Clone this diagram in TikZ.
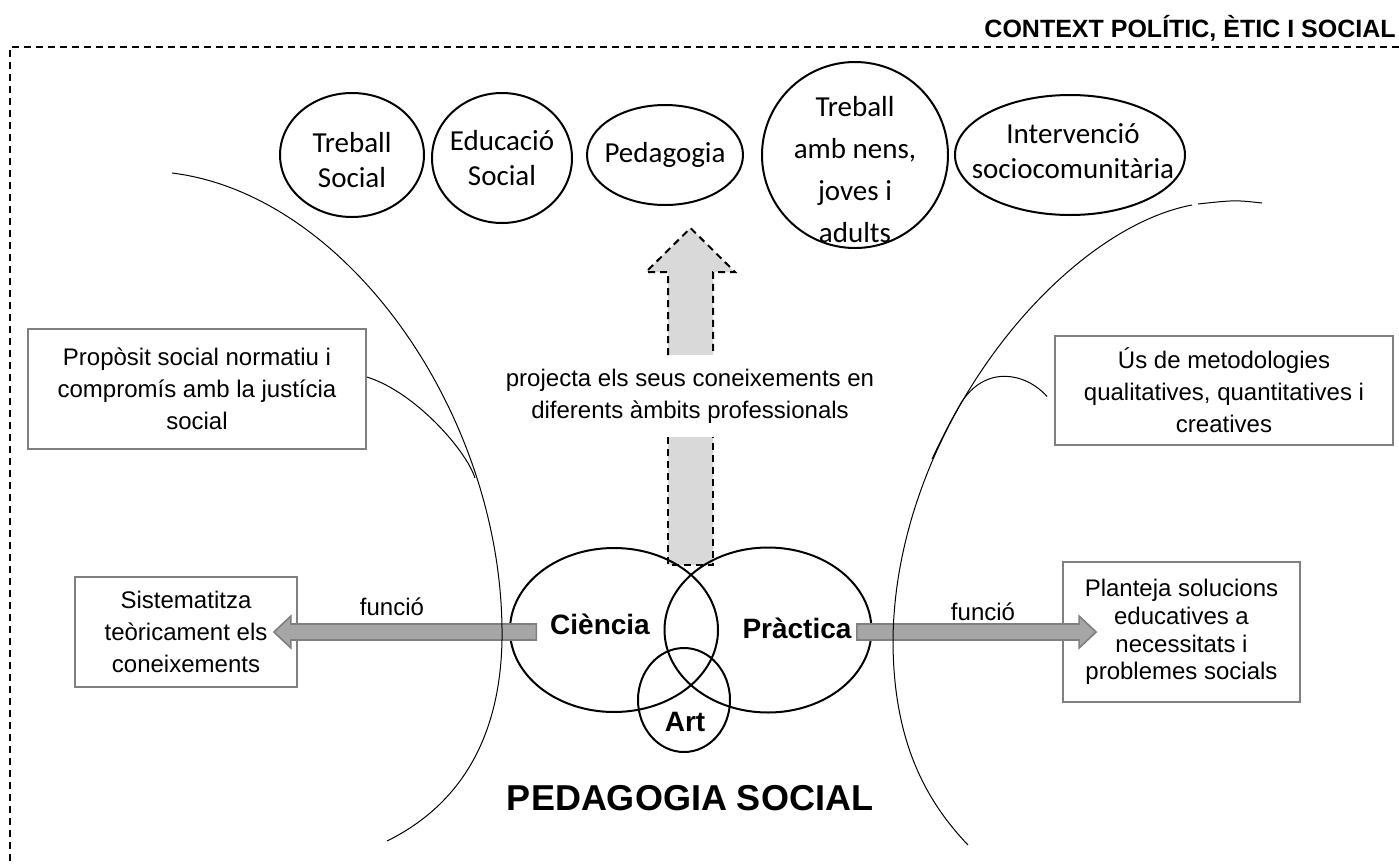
\documentclass[tikz,border=0pt]{standalone}
\usepackage{fontspec}
\setmainfont{Liberation Sans}
\newfontfamily\calib{Carlito}
\usetikzlibrary{calc,positioning,shapes.geometric}
\definecolor{boxgray}{HTML}{808080}
\definecolor{arrgray}{HTML}{A6A6A6}
\definecolor{arrline}{HTML}{7F7F7F}
\definecolor{liteg}{HTML}{D9D9D9}

\begin{document}
\begin{tikzpicture}[x=0.5pt, y=-0.5pt, font=\fontsize{12}{16}\selectfont,
    ell/.style = {line width=1pt},
    etxt/.style = {font=\calib\fontsize{14.5}{17.5}\selectfont, align=center, inner sep=0pt},
    venn/.style = {draw, ellipse, line width=1pt, inner sep=0pt},
    vlbl/.style = {font=\bfseries\fontsize{14}{16}\selectfont, inner sep=0pt},
    gbox/.style = {draw=boxgray, line width=0.9pt, align=center, inner sep=0pt},
    garrow/.style = {fill=arrgray, draw=arrline, line width=0.8pt},
    dline/.style = {dash pattern=on 3.5pt off 2.5pt, line width=1pt},
    curve/.style = {line width=0.5pt}]
    \useasboundingbox (0,0) rectangle (1399,863);
    \node[anchor=east, inner sep=0pt, font=\bfseries\fontsize{12.5}{15}\selectfont] (ctx) at (1396,28) {CONTEXT POLÍTIC, ÈTIC I SOCIAL};
    \draw[dline] (1399,47) -- (10,47) -- (10,863);

    \node[etxt] (ts) at (352,160) {Treball\\Social};
    \node[etxt] (es) at (502,158) {Educació\\Social};
    \node[etxt] (pe) at (665,155) {Pedagogia};
    \node[etxt, font=\calib\fontsize{14.5}{21}\selectfont] (tn) at (855,170) {Treball\\amb nens,\\joves i\\adults};
    \node[etxt] (is) at (1073,151) {Intervenció\\sociocomunitària};
    \draw[ell] (352,155) ellipse [x radius=36pt, y radius=31pt];
    \draw[ell] (502,158) ellipse [x radius=35pt, y radius=32.5pt];
    \draw[ell] (665,155) ellipse [x radius=39pt, y radius=25pt];
    \draw[ell] (855,155) ellipse [x radius=46.5pt, y radius=46.5pt];
    \draw[ell] (1070,155) ellipse [x radius=57.5pt, y radius=30pt];

    \draw[dline, fill=liteg] (668,355) -- (668,272) -- (646,272) -- (690.5,228) -- (735,272) -- (713,272) -- (713,355);
    \node[align=center] (proj) at (690,396) {projecta els seus coneixements en\\diferents àmbits professionals};
    \draw[dline, fill=liteg] (668,437) -- (668,565) -- (713,565) -- (713,437);

    \node[gbox, minimum width=169pt, minimum height=60pt] (prop) at (197,389) {Propòsit social normatiu i\\compromís amb la justícia\\social};
    \node[gbox, minimum width=169pt, minimum height=54.5pt] (us) at (1224,390.5) {Ús de metodologies\\qualitatives, quantitatives i\\creatives};
    \node[gbox, minimum width=111pt, minimum height=55pt] (sist) at (186,632) {Sistematitza\\teòricament els\\coneixements};
    \node[gbox, minimum width=118.5pt, minimum height=70pt, font=\fontsize{12}{13.85}\selectfont] (plan) at (1181.5,632) {Planteja solucions\\educatives a\\necessitats i\\problemes socials};

    \node[venn, minimum width=104pt, minimum height=82pt] (cien) at (614,630) {};
    \node[venn, minimum width=103.5pt, minimum height=82.5pt] (prac) at (768,630) {};
    \node[venn, minimum width=46pt, minimum height=52pt] (art) at (684,700) {};
    \node[vlbl] (cienl) at (600,624) {Ciència};
    \node[vlbl] (pracl) at (797,628) {Pràctica};
    \node[vlbl] (artl) at (685,722) {Art};
    \node[font=\bfseries\fontsize{18}{20}\selectfont] (ps) at (690,798) {PEDAGOGIA SOCIAL};

    \draw[garrow] let \p1=([xshift=-6.75pt]cienl.west), \p2=([xshift=-12pt]sist.east) in
        (\x1,\y2+4pt) -- (\x2+8.5pt,\y2+4pt) -- (\x2+8.5pt,\y2+8pt) -- (\x2,\y2)
        -- (\x2+8.5pt,\y2-8pt) -- (\x2+8.5pt,\y2-4pt) -- (\x1,\y2-4pt) -- cycle;
    \draw[garrow] let \p1=([xshift=2.5pt]pracl.east), \p2=([xshift=17pt]plan.west) in
        (\x1,\y2+4pt) -- (\x2-8.5pt,\y2+4pt) -- (\x2-8.5pt,\y2+8pt) -- (\x2,\y2)
        -- (\x2-8.5pt,\y2-8pt) -- (\x2-8.5pt,\y2-4pt) -- (\x1,\y2-4pt) -- cycle;
    \node (fl) at (392,607) {funció};
    \node (fr) at (983,612) {funció};

    \draw[curve] (172,173) .. controls (350,195) and (505,420) .. (502,640) .. controls (500,750) and (450,810) .. (387,841);
    \draw[curve] ([yshift=6pt]prop.east) .. controls (415,392) and (466,450) .. (475,478);
    \draw[curve] (1262,203) .. controls (1235,200) .. (1198,204);
    \draw[curve] (1192,205) .. controls (1060,230) and (895,430) .. (893,640) .. controls (893,740) and (925,800) .. (968,845);
    \draw[curve] ([xshift=-3.5pt, yshift=-3pt]us.west) .. controls (1025,372) and (985,365) .. (961,403) .. controls (951,420) and (941,440) .. (932,459);
\end{tikzpicture}
\end{document}
